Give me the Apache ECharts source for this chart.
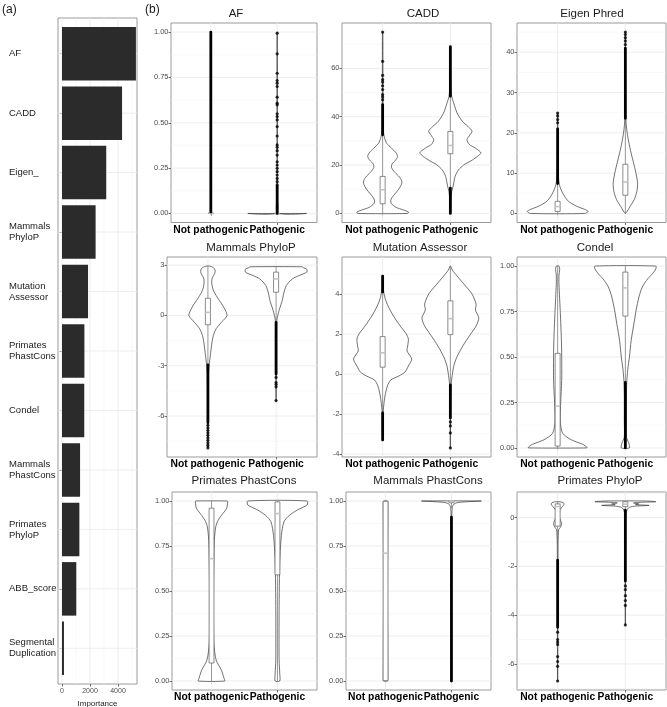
<!DOCTYPE html>
<html><head><meta charset="utf-8">
<script src="https://cdn.jsdelivr.net/npm/echarts@6/dist/echarts.min.js"></script>
<style>html,body{margin:0;padding:0;background:#fff}#c{width:667px;height:707px}</style>
</head><body><div id="c"></div>
<script>
// ================= Panel (a): feature importance =================
const featureNames = ['AF','CADD','Eigen_','Mammals\nPhyloP','Mutation\nAssessor','Primates\nPhastCons','Condel','Mammals\nPhastCons','Primates\nPhyloP','ABB_score','Segmental\nDuplication'];
const importance = [5280, 4290, 3160, 2400, 1860, 1600, 1590, 1290, 1240, 1020, 140];
const importanceTicks = [0, 2000, 4000];
const importanceMinor = [1000, 3000, 5000];

// ================= Panel (b): violin plots =================
const groupNames = ['Not pathogenic', 'Pathogenic'];
const scoreTitles = ['AF','CADD','Eigen Phred','Mammals PhyloP','Mutation Assessor','Condel','Primates PhastCons','Mammals PhastCons','Primates PhyloP'];
// violin = [value, half width (category units)], box = [low whisker, q1, median, q3, high whisker]
// dense = ranges of overlapping outliers, points = single outliers

const afTicks = [0, 0.25, 0.5, 0.75, 1];
const afNotViolin = [[0,0.004],[0.5,0.003],[1,0.003]];
const afNotBox = [0, 0, 0, 0.003, 0.006];
const afNotDense = [[0.008, 1]];
const afNotPoints = [];
const afPathViolin = [[0,0.44],[0.003,0.006],[0.1,0.003],[1,0.002]];
const afPathBox = [0, 0, 0, 0, 0];
const afPathDense = [[0, 0.15]];
const afPathPoints = [0.994,0.880,0.773,0.733,0.718,0.700,0.641,0.608,0.599,0.549,0.534,0.516,0.479,0.427,0.378,0.365,0.346,0.322,0.285,0.267,0.249,0.230,0.212,0.193,0.175,0.157];

const caddTicks = [0, 20, 40, 60];
const caddNotViolin = [[0,0.37],[0.6,0.38],[1.5,0.3],[2.5,0.2],[4,0.13],[5.5,0.12],[7,0.15],[9,0.21],[11,0.26],[13,0.285],[15,0.25],[17,0.18],[19,0.13],[20.5,0.14],[22,0.19],[23.5,0.22],[25,0.2],[27,0.13],[29,0.06],[31,0.03],[33,0.015],[36,0.008],[45,0.005],[60,0.004],[75,0.003]];
const caddNotBox = [0, 4, 9.8, 15.3, 32];
const caddNotDense = [[32.5, 45]];
const caddNotPoints = [47, 48.1, 49.1, 51.2, 52.8, 54.3, 55.3, 57.1, 62.9, 75];
const caddPathViolin = [[0,0.004],[5,0.008],[9,0.02],[11.2,0.04],[15.3,0.07],[18,0.12],[20.1,0.2],[22.2,0.33],[25,0.45],[27,0.37],[28.5,0.28],[30.5,0.245],[32.5,0.29],[34,0.32],[36,0.26],[38,0.18],[41.5,0.1],[45.6,0.05],[48.4,0.02],[52,0.008],[60,0.004],[69,0.003]];
const caddPathBox = [10.5, 24.7, 28.1, 33.9, 48.4];
const caddPathDense = [[0, 10.5], [48.5, 69]];
const caddPathPoints = [];

const eigenTicks = [0, 10, 20, 30, 40];
const eigenNotViolin = [[0,0.40],[0.5,0.45],[1,0.4],[1.8,0.28],[3,0.16],[4.3,0.1],[5.9,0.05],[7.2,0.025],[9,0.012],[12,0.006],[18,0.004],[25,0.002]];
const eigenNotBox = [0, 0.5, 1.7, 3.0, 7.2];
const eigenNotDense = [[7.4, 21]];
const eigenNotPoints = [22.5, 23.3, 24.2, 24.9];
const eigenPathViolin = [[0,0.003],[0.6,0.03],[1.76,0.07],[3.4,0.13],[5.5,0.17],[7.6,0.18],[10.1,0.155],[12.6,0.12],[15.1,0.083],[17.7,0.05],[20.2,0.025],[22.7,0.01],[26,0.005],[35,0.003],[45,0.002]];
const eigenPathBox = [0, 4.5, 7.8, 12.2, 23.5];
const eigenPathDense = [[23.6, 41]];
const eigenPathPoints = [41.9, 42.8, 43.6, 44.4, 45.0];

const mamPhyloTicks = [-6, -3, 0, 3];
const mamPhyloNotViolin = [[-7.9,0.002],[-5,0.004],[-3.5,0.008],[-2.9,0.02],[-2.4,0.035],[-1.6,0.06],[-1.2,0.08],[-0.8,0.12],[-0.4,0.2],[0,0.28],[0.5,0.23],[1.0,0.15],[1.4,0.09],[1.7,0.065],[2.0,0.055],[2.25,0.065],[2.5,0.1],[2.7,0.105],[2.85,0.08],[2.94,0.02]];
const mamPhyloNotBox = [-2.9, -0.56, 0.18, 1.02, 2.94];
const mamPhyloNotDense = [[-6.4, -2.95]];
const mamPhyloNotPoints = [-6.55, -6.7, -6.85, -7.0, -7.15, -7.3, -7.45, -7.6, -7.75, -7.9];
const mamPhyloPathViolin = [[-5.1,0.002],[-3,0.003],[-1,0.006],[-0.32,0.01],[0,0.025],[0.38,0.05],[0.88,0.09],[1.28,0.11],[1.78,0.15],[2.18,0.24],[2.38,0.34],[2.58,0.45],[2.75,0.45],[2.85,0.4],[2.9,0.38]];
const mamPhyloPathBox = [-0.4, 1.38, 2.18, 2.58, 2.9];
const mamPhyloPathDense = [[-3.5, -0.42]];
const mamPhyloPathPoints = [-3.7, -4.0, -4.12, -4.26, -5.08];

const mutTicks = [-4, -2, 0, 2, 4];
const mutNotViolin = [[-3.3,0.002],[-2,0.006],[-1.6,0.015],[-1.1,0.035],[-0.6,0.07],[-0.3,0.12],[-0.1,0.24],[0.1,0.33],[0.4,0.38],[0.75,0.43],[1.15,0.36],[1.4,0.37],[1.75,0.38],[2.0,0.35],[2.4,0.26],[2.9,0.16],[3.4,0.08],[3.8,0.035],[4.2,0.012],[4.9,0.004]];
const mutNotBox = [-1.9, 0.34, 1.06, 1.87, 4.05];
const mutNotDense = [[-3.3, -1.95], [4.1, 4.9]];
const mutNotPoints = [];
const mutPathViolin = [[-3.7,0.002],[-2,0.003],[-0.8,0.008],[-0.4,0.015],[0,0.03],[0.4,0.05],[0.8,0.09],[1.2,0.15],[1.6,0.22],[2.0,0.3],[2.4,0.38],[2.8,0.42],[3.2,0.37],[3.5,0.38],[4.0,0.32],[4.5,0.2],[4.9,0.1],[5.2,0.03],[5.4,0.004]];
const mutPathBox = [-0.5, 1.97, 2.77, 3.66, 5.35];
const mutPathDense = [[-2.2, -0.55]];
const mutPathPoints = [-2.4, -2.6, -2.95, -3.7];

const condelTicks = [0, 0.25, 0.5, 0.75, 1];
const condelNotViolin = [[0,0.43],[0.005,0.43],[0.02,0.37],[0.045,0.2],[0.08,0.075],[0.14,0.04],[0.25,0.045],[0.37,0.06],[0.5,0.06],[0.6,0.055],[0.74,0.04],[0.9,0.02],[0.95,0.02],[0.98,0.03],[1.0,0.02]];
const condelNotBox = [0, 0.01, 0.23, 0.52, 1.0];
const condelNotDense = [];
const condelNotPoints = [];
const condelPathViolin = [[0,0.06],[0.027,0.05],[0.06,0.015],[0.15,0.015],[0.28,0.015],[0.36,0.02],[0.43,0.035],[0.5,0.06],[0.59,0.085],[0.68,0.125],[0.76,0.16],[0.83,0.2],[0.885,0.25],[0.93,0.33],[0.958,0.4],[0.985,0.45],[1.0,0.45]];
const condelPathBox = [0.36, 0.725, 0.88, 0.967, 1.0];
const condelPathDense = [[0, 0.36]];
const condelPathPoints = [];

const priPhastTicks = [0, 0.25, 0.5, 0.75, 1];
const priPhastNotViolin = [[0,0.2],[0.015,0.19],[0.06,0.15],[0.116,0.07],[0.21,0.035],[0.48,0.03],[0.76,0.04],[0.85,0.06],[0.886,0.09],[0.92,0.15],[0.96,0.23],[0.996,0.245],[1,0.24]];
const priPhastNotBox = [0, 0.1, 0.68, 0.96, 1.0];
const priPhastNotDense = [];
const priPhastNotPoints = [];
const priPhastPathViolin = [[0,0.035],[0.04,0.035],[0.116,0.025],[0.39,0.025],[0.67,0.035],[0.81,0.06],[0.886,0.1],[0.92,0.18],[0.95,0.3],[0.978,0.45],[1,0.45]];
const priPhastPathBox = [0, 0.59, 0.93, 0.995, 1.0];
const priPhastPathDense = [];
const priPhastPathPoints = [];

const mamPhastTicks = [0, 0.25, 0.5, 0.75, 1];
const mamPhastNotViolin = [[0,0.03],[0.01,0.035],[0.5,0.03],[0.99,0.035],[1,0.03]];
const mamPhastNotBox = [0, 0.002, 0.71, 0.998, 1.0];
const mamPhastNotDense = [];
const mamPhastNotPoints = [];
const mamPhastPathViolin = [[0,0.002],[0.5,0.002],[0.9,0.003],[0.96,0.012],[0.98,0.03],[0.99,0.08],[0.995,0.2],[1.0,0.45]];
const mamPhastPathBox = [0.96, 0.99, 1.0, 1.0, 1.0];
const mamPhastPathDense = [[0, 0.91]];
const mamPhastPathPoints = [];

const priPhyloTicks = [-6, -4, -2, 0];
const priPhyloNotViolin = [[-6.7,0.002],[-2,0.004],[-1,0.006],[-0.5,0.015],[-0.4,0.04],[-0.25,0.06],[-0.1,0.04],[0.1,0.02],[0.3,0.03],[0.45,0.07],[0.55,0.095],[0.62,0.08],[0.65,0.02]];
const priPhyloNotBox = [-1.75, -0.35, 0.45, 0.56, 0.65];
const priPhyloNotDense = [[-4.5, -1.75]];
const priPhyloNotPoints = [-4.7, -5.0, -5.1, -5.2, -5.7, -5.9, -6.1, -6.7];
const priPhyloPathViolin = [[-4.4,0.002],[-2,0.003],[0,0.006],[0.2,0.012],[0.35,0.03],[0.42,0.06],[0.47,0.15],[0.5,0.35],[0.53,0.15],[0.56,0.2],[0.6,0.12],[0.63,0.25],[0.65,0.45],[0.68,0.3]];
const priPhyloPathBox = [0.3, 0.45, 0.55, 0.65, 0.68];
const priPhyloPathDense = [[-2.6, 0.3]];
const priPhyloPathPoints = [-2.8, -2.95, -3.2, -3.4, -3.6, -4.4];

// ================= assemble =================
const panels = [
  {ticks: afTicks, groups: [[afNotViolin, afNotBox, afNotDense, afNotPoints], [afPathViolin, afPathBox, afPathDense, afPathPoints]]},
  {ticks: caddTicks, groups: [[caddNotViolin, caddNotBox, caddNotDense, caddNotPoints], [caddPathViolin, caddPathBox, caddPathDense, caddPathPoints]]},
  {ticks: eigenTicks, groups: [[eigenNotViolin, eigenNotBox, eigenNotDense, eigenNotPoints], [eigenPathViolin, eigenPathBox, eigenPathDense, eigenPathPoints]]},
  {ticks: mamPhyloTicks, groups: [[mamPhyloNotViolin, mamPhyloNotBox, mamPhyloNotDense, mamPhyloNotPoints], [mamPhyloPathViolin, mamPhyloPathBox, mamPhyloPathDense, mamPhyloPathPoints]]},
  {ticks: mutTicks, groups: [[mutNotViolin, mutNotBox, mutNotDense, mutNotPoints], [mutPathViolin, mutPathBox, mutPathDense, mutPathPoints]]},
  {ticks: condelTicks, groups: [[condelNotViolin, condelNotBox, condelNotDense, condelNotPoints], [condelPathViolin, condelPathBox, condelPathDense, condelPathPoints]]},
  {ticks: priPhastTicks, groups: [[priPhastNotViolin, priPhastNotBox, priPhastNotDense, priPhastNotPoints], [priPhastPathViolin, priPhastPathBox, priPhastPathDense, priPhastPathPoints]]},
  {ticks: mamPhastTicks, groups: [[mamPhastNotViolin, mamPhastNotBox, mamPhastNotDense, mamPhastNotPoints], [mamPhastPathViolin, mamPhastPathBox, mamPhastPathDense, mamPhastPathPoints]]},
  {ticks: priPhyloTicks, groups: [[priPhyloNotViolin, priPhyloNotBox, priPhyloNotDense, priPhyloNotPoints], [priPhyloPathViolin, priPhyloPathBox, priPhyloPathDense, priPhyloPathPoints]]}
];

// panel boxes: [left, top, right, bottom], title centre x, title y
const boxes = [
  [171, 23, 317, 222.5, 236, 14], [342, 23, 491, 222.5, 423, 14], [517, 23, 666, 222.5, 592, 14],
  [167, 257, 317, 457, 251, 248], [342, 257, 491, 457, 420, 248], [517, 257, 666, 457, 595, 248],
  [172, 492, 317, 690, 244, 481], [346, 492, 491, 690, 428, 481], [517, 492, 666, 690, 600, 481]
];

const FONT = '"Liberation Sans", Arial, Helvetica, sans-serif';
const grids = [], xAxes = [], yAxes = [], series = [], graphics = [], extraX = [];
const borderCol = '#9a9a9a', majorGrid = '#ebebeb', minorGrid = '#f4f4f4';

function gridLineSeries(idx, hVals, vVals, hMajor, vMajor) {
  const lines = [];
  hVals.forEach((v, i) => lines.push({o: 'h', v, m: hMajor[i]}));
  vVals.forEach((v, i) => lines.push({o: 'v', v, m: vMajor[i]}));
  return {
    type: 'custom', xAxisIndex: idx, yAxisIndex: idx, silent: true, z: 1,
    data: lines.map((l, i) => [i]),
    renderItem(params, api) {
      const l = lines[params.dataIndex], cs = params.coordSys;
      let shape;
      if (l.o === 'h') { const y = api.coord([1, l.v])[1]; shape = {x1: cs.x, y1: y, x2: cs.x + cs.width, y2: y}; }
      else { const x = api.coord([l.v, 0])[0]; shape = {x1: x, y1: cs.y, x2: x, y2: cs.y + cs.height}; }
      return {type: 'line', shape, style: {stroke: l.m ? majorGrid : minorGrid, lineWidth: l.m ? 0.9 : 0.6}};
    }
  };
}

// ---- Panel (a)
grids.push({left: 58, top: 18, width: 79, height: 666, show: true, borderColor: borderCol, borderWidth: 1, backgroundColor: '#fff', outerBoundsMode: 'none', containLabel: false});
xAxes.push({gridIndex: 0, type: 'value', min: -286, max: 5357,
  axisLine: {show: false}, splitLine: {show: false},
  axisTick: {customValues: importanceTicks, length: 2.5, lineStyle: {color: '#333', width: 0.7}},
  axisLabel: {customValues: importanceTicks, formatter: v => String(v), showMinLabel: true, showMaxLabel: true, hideOverlap: false,
    fontSize: 7, color: '#4d4d4d', margin: 4, fontFamily: FONT},
  name: 'Importance', nameLocation: 'middle', nameGap: 13, nameTextStyle: {fontSize: 8, color: '#1a1a1a', fontFamily: FONT}});
const featIdx = featureNames.map((_, i) => i + 1);
yAxes.push({gridIndex: 0, type: 'value', min: 0.4, max: 11.6, inverse: true,
  axisLine: {show: false}, splitLine: {show: false},
  axisTick: {customValues: featIdx, length: 2.5, lineStyle: {color: '#333', width: 0.7}},
  axisLabel: {customValues: featIdx, formatter: v => featureNames[Math.round(v) - 1], align: 'left', margin: 49,
    showMinLabel: true, showMaxLabel: true, hideOverlap: false,
    fontSize: 9.5, lineHeight: 11, color: '#1a1a1a', fontFamily: FONT}});
series.push(gridLineSeries(0, featIdx, importanceTicks.concat(importanceMinor), featIdx.map(() => 1), importanceTicks.map(() => 1).concat(importanceMinor.map(() => 0))));
series.push({type: 'custom', xAxisIndex: 0, yAxisIndex: 0, z: 3,
  data: importance.map((v, i) => [v, i + 1]),
  renderItem(params, api) {
    const v = api.value(0), c = api.value(1);
    const p0 = api.coord([0, c - 0.45]), p1 = api.coord([v, c + 0.45]);
    return {type: 'rect', shape: {x: p0[0], y: p0[1], width: p1[0] - p0[0], height: p1[1] - p0[1]}, style: {fill: '#2b2b2b'}};
  }});

// ---- Panel (b)
function groupAxis(idx, cat) {
  return {gridIndex: idx, type: 'value', min: 0.4, max: 2.6, position: 'bottom', offset: 0,
    axisLine: {show: false}, splitLine: {show: false},
    axisTick: {customValues: [cat], length: 2.5, lineStyle: {color: '#333', width: 0.7}},
    axisLabel: {customValues: [cat], formatter: v => groupNames[Math.round(v) - 1], margin: 2.5,
      showMinLabel: true, showMaxLabel: true, hideOverlap: false,
      fontSize: 10.3, fontWeight: 'bold', color: '#000', fontFamily: FONT}};
}
panels.forEach((p, k) => {
  const idx = k + 1, b = boxes[k];
  let lo = Infinity, hi = -Infinity;
  p.groups.forEach(g => {
    g[0].forEach(q => { lo = Math.min(lo, q[0]); hi = Math.max(hi, q[0]); });
    g[1].forEach(v => { lo = Math.min(lo, v); hi = Math.max(hi, v); });
    g[2].forEach(r => { lo = Math.min(lo, r[0]); hi = Math.max(hi, r[1]); });
    g[3].forEach(v => { lo = Math.min(lo, v); hi = Math.max(hi, v); });
  });
  const pad = (hi - lo) * 0.05, ymin = lo - pad, ymax = hi + pad;
  const step = p.ticks[1] - p.ticks[0];
  const minors = p.ticks.map(t => t - step / 2).concat([p.ticks[p.ticks.length - 1] + step / 2]).filter(v => v > ymin && v < ymax);
  const dec = p.ticks.some(t => !Number.isInteger(t)) ? 2 : 0;

  grids.push({left: b[0], top: b[1], width: b[2] - b[0], height: b[3] - b[1], show: true, borderColor: borderCol, borderWidth: 1, backgroundColor: '#fff', outerBoundsMode: 'none', containLabel: false});
  xAxes.push(groupAxis(idx, 1));
  extraX.push(groupAxis(idx, 2));
  yAxes.push({gridIndex: idx, type: 'value', min: ymin, max: ymax,
    axisLine: {show: false}, splitLine: {show: false},
    axisTick: {customValues: p.ticks, length: 2.5, lineStyle: {color: '#333', width: 0.7}},
    axisLabel: {customValues: p.ticks, formatter: v => Number(v).toFixed(dec), margin: 2.5,
      showMinLabel: true, showMaxLabel: true, hideOverlap: false,
      fontSize: 7.5, color: '#4d4d4d', fontFamily: FONT}});
  series.push(gridLineSeries(idx, p.ticks.concat(minors), [1, 2], p.ticks.map(() => 1).concat(minors.map(() => 0)), [1, 1]));

  // violins
  series.push({type: 'custom', xAxisIndex: idx, yAxisIndex: idx, z: 2, silent: true,
    data: [[1], [2]],
    renderItem(params, api) {
      const c = params.dataIndex + 1, prof = p.groups[params.dataIndex][0];
      const right = prof.map(q => api.coord([c + q[1], q[0]]));
      const left = prof.slice().reverse().map(q => api.coord([c - q[1], q[0]]));
      return {type: 'polygon', shape: {points: right.concat(left), smooth: 0.25},
        style: {fill: '#fff', stroke: '#333', lineWidth: 0.7}};
    }});
  // boxes
  series.push({type: 'custom', xAxisIndex: idx, yAxisIndex: idx, z: 3, silent: true,
    data: [[1], [2]],
    renderItem(params, api) {
      const c = params.dataIndex + 1, bx = p.groups[params.dataIndex][1], hw = 0.037;
      const y = bx.map(v => api.coord([c, v])[1]);
      const x = api.coord([c, 0])[0], xl = api.coord([c - hw, 0])[0], xr = api.coord([c + hw, 0])[0];
      return {type: 'group', children: [
        {type: 'line', shape: {x1: x, y1: y[0], x2: x, y2: y[1]}, style: {stroke: '#6a6a6a', lineWidth: 0.7}},
        {type: 'line', shape: {x1: x, y1: y[3], x2: x, y2: y[4]}, style: {stroke: '#6a6a6a', lineWidth: 0.7}},
        {type: 'rect', shape: {x: xl, y: y[3], width: xr - xl, height: Math.max(y[1] - y[3], 0.5)}, style: {fill: '#fff', stroke: '#5a5a5a', lineWidth: 0.7}},
        {type: 'line', shape: {x1: xl, y1: y[2], x2: xr, y2: y[2]}, style: {stroke: '#c4c4c4', lineWidth: 1.6}}
      ]};
    }});
  // dense outlier runs
  const dense = [];
  p.groups.forEach((g, gi) => g[2].forEach(r => dense.push([gi + 1, r[0], r[1]])));
  if (dense.length) series.push({type: 'custom', xAxisIndex: idx, yAxisIndex: idx, z: 4, silent: true,
    data: dense,
    renderItem(params, api) {
      const a = api.coord([api.value(0), api.value(1)]), t = api.coord([api.value(0), api.value(2)]);
      return {type: 'rect', shape: {x: a[0] - 1.4, y: t[1] - 1.4, width: 2.8, height: a[1] - t[1] + 2.8, r: 1.4}, style: {fill: '#000'}};
    }});
  // single outliers
  const pts = [];
  p.groups.forEach((g, gi) => g[3].forEach(v => pts.push([gi + 1, v])));
  if (pts.length) series.push({type: 'scatter', xAxisIndex: idx, yAxisIndex: idx, z: 5, silent: true,
    symbolSize: 3.2, itemStyle: {color: '#000'}, data: pts});

  graphics.push({type: 'text', x: b[4], y: b[5], style: {text: scoreTitles[k], fontSize: 11.5, fontFamily: FONT, fill: '#1a1a1a', textAlign: 'center', textVerticalAlign: 'middle', align: 'center', verticalAlign: 'middle'}});
});

graphics.push({type: 'text', x: 2, y: 10, style: {text: '(a)', fontSize: 12, fontFamily: FONT, fill: '#1a1a1a', textVerticalAlign: 'middle', verticalAlign: 'middle'}});
graphics.push({type: 'text', x: 145, y: 10, style: {text: '(b)', fontSize: 12, fontFamily: FONT, fill: '#1a1a1a', textVerticalAlign: 'middle', verticalAlign: 'middle'}});

const chart = echarts.init(document.getElementById('c'), null, {renderer: 'canvas'});
chart.setOption({
  animation: false,
  textStyle: {fontFamily: FONT},
  grid: grids, xAxis: xAxes.concat(extraX), yAxis: yAxes, series, graphic: graphics
});
</script>
</body></html>
